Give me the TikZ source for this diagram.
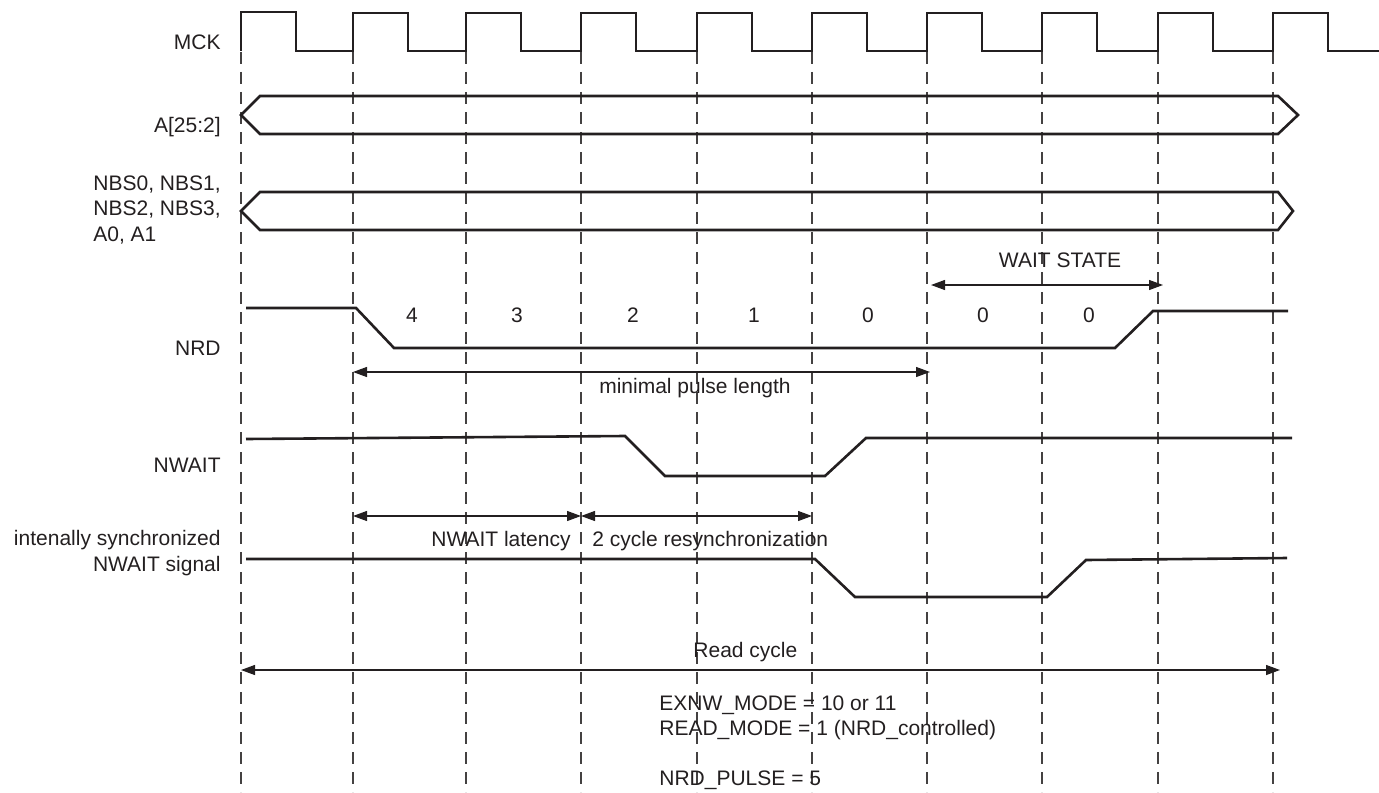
\documentclass[tikz,border=0pt]{standalone}
\usepackage{fontspec}
\setmainfont{Liberation Sans}
\usetikzlibrary{arrows.meta}
\definecolor{ink}{HTML}{231F20}

\begin{document}
\begin{tikzpicture}[
  x=0.5pt, y=-0.5pt,
  font=\fontsize{10.5}{12.6}\selectfont,
  wave/.style={line width=1.3pt, draw=ink, line join=miter},
  clk/.style={line width=1.1pt, draw=ink},
  gridline/.style={line width=0.6pt, draw=ink!85, dash pattern=on 6pt off 4pt},
  span/.style={{Triangle[length=7pt,width=5pt]}-{Triangle[length=7pt,width=5pt]},
    line width=0.6pt, draw=ink, fill=ink},
  sig/.style={anchor=base east, inner sep=0pt, text=ink},
  txt/.style={anchor=base, inner sep=0pt, text=ink},
]
\useasboundingbox (0,0) rectangle (1379,792);

% cycle boundaries
\foreach \i/\x in {0/241, 1/353, 2/466, 3/581, 4/697, 5/812, 6/927, 7/1042, 8/1158, 9/1273} {
  \coordinate (c\i) at (\x,52);
  \coordinate (b\i) at (\x,792);
  \draw[gridline] (c\i) -- (b\i);
}

% signal names
\node[sig] (mck) at (221,50) {MCK};
\node[sig] (addr) at (221,133) {A[25:2]};
\node[anchor=base west, inner sep=0pt, align=left, text=ink] (nbs) at (93,241)
  {NBS0, NBS1,\\NBS2, NBS3,\\A0, A1};
\node[sig] (nrd) at (221,355) {NRD};
\node[sig] (nwait) at (221,472) {NWAIT};
\node[anchor=base east, inner sep=0pt, align=right, text=ink] (sync) at (221,571)
  {intenally synchronized\\NWAIT signal};

% MCK
\draw[clk] (241,51) -- (241,12) -- (296,12) -- (296,51)
  \foreach \x in {353,466,581,697,812,927,1042,1158,1273} {
    -- (\x,51) -- (\x,13) -- ({\x+55},13) -- ({\x+55},51) } -- (1379,51);

% busses
\draw[wave] (260,96) -- (241,115) -- (260,134) -- (1278,134) -- (1298,115) -- (1278,96) -- cycle;
\draw[wave] (260,192) -- (241,211) -- (260,230) -- (1278,230) -- (1293,211) -- (1278,192) -- cycle;

% NRD
\draw[wave] (246,308) -- (356,308) -- (394,348) -- (1115,348) -- (1153,311) -- (1288,311);
\foreach \n/\x/\v in {n4/412/4, n3/517/3, n2/633/2, n1/754/1, n0/868/0, w1/983/0, w2/1089/0}
  \node[txt] (\n) at (\x,322) {\v};

% NWAIT
\draw[wave] (246,439) -- (625,436) -- (665,476) -- (825,476) -- (866,438) -- (1292,438);

% internal NWAIT
\draw[wave] (246,559) -- (815,559) -- (855,597) -- (1047,597) -- (1086,560) -- (1287,558);

% spans
\coordinate (ws-a) at (931,285);
\coordinate (ws-b) at (1163,285);
\draw[span] (ws-a) -- (ws-b);
\node[txt] (ws) at (1060,267) {WAIT STATE};

\coordinate (mp-a) at (353,372);
\coordinate (mp-b) at (930,372);
\draw[span] (mp-a) -- (mp-b);
\node[txt] (mp) at (695,393) {minimal pulse length};

\coordinate (lat-a) at (353,516);
\coordinate (lat-b) at (581,516);
\coordinate (res-b) at (812,516);
\draw[span] (lat-a) -- (lat-b);
\draw[span] (lat-b) -- (res-b);
\node[anchor=base east, inner sep=0pt, text=ink] (lat) at (571,546) {NWAIT latency};
\node[anchor=base west, inner sep=0pt, text=ink] (res) at (592,546) {2 cycle resynchronization};

\coordinate (rc-a) at (241,670);
\coordinate (rc-b) at (1280,670);
\draw[span] (rc-a) -- (rc-b);
\node[anchor=base west, inner sep=0pt, text=ink] (rc) at (693,657) {Read cycle};

% settings
\node[anchor=base west, inner sep=0pt, text=ink] (exnw) at (659,710) {EXNW\_MODE = 10 or 11};
\node[anchor=base west, inner sep=0pt, text=ink] (rmode) at (659,735) {READ\_MODE = 1 (NRD\_controlled)};
\node[anchor=base west, inner sep=0pt, text=ink] (pulse) at (659,785) {NRD\_PULSE = 5};

\end{tikzpicture}
\end{document}
